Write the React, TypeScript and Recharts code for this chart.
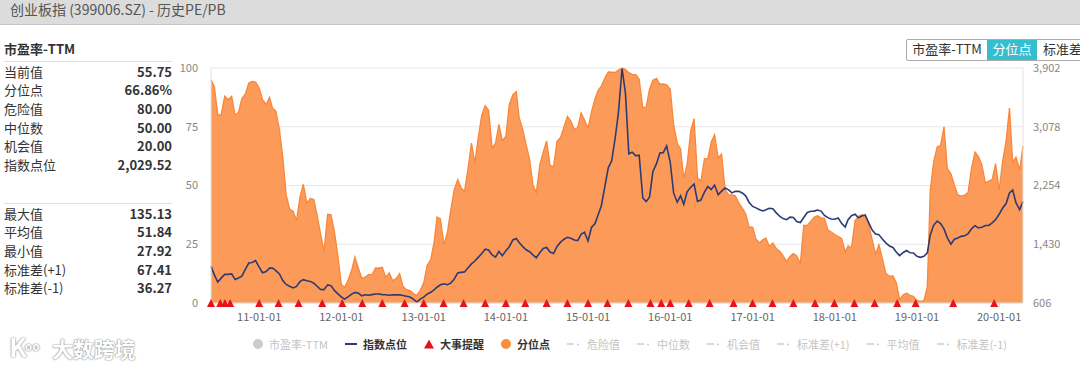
import React from 'react';
import {
  ComposedChart,
  Area,
  Line,
  Scatter,
  XAxis,
  YAxis,
  CartesianGrid,
} from 'recharts';

const FONT = "'Noto Sans CJK SC', 'Noto Sans', sans-serif";

// half-month samples starting 2010-06-01 (1st and 16th of each month)
const START_YEAR = 2010;
const START_MONTH = 5;

// 分位点 (%)
const PERCENTILE = [
  95, 92, 80, 80, 88, 86.5, 88, 80, 81, 87, 89, 93.6, 94.3, 94, 91.5, 86.5, 84.5, 87.5, 83, 81.7, 73.8, 62, 46, 40,
  39, 35, 45, 50.5, 42.5, 44.5, 44, 37, 29.3, 22, 37.8, 37.5, 30.5, 20.5, 7.8, 6.8, 10, 14, 19.5, 15, 10.5, 11, 12.2, 12,
  14.9, 14.8, 15.2, 11, 12.8, 9.5, 10.5, 12.5, 7, 5.7, 5.3, 4, 3.2, 5.3, 8.6, 16, 18.5, 25.8, 36.6, 35.8, 24.8, 30, 39.5, 48,
  52.5, 49, 47.5, 56.7, 68, 59.5, 71, 80, 84, 82, 65.8, 68, 76, 69, 71, 84.4, 88.7, 90, 78.8, 74.2, 67.3, 61.2, 50.3, 47,
  59, 64.3, 69, 58.5, 58, 68.8, 70.5, 74.9, 79.4, 77.5, 73.8, 74.7, 80.9, 77.9, 74.5, 81.3, 87, 90.7, 92.3, 95.6, 98.3, 98.2, 98.1, 99.1,
  99.9, 99.4, 98, 97.3, 97.2, 95.2, 83, 83.5, 91, 94.8, 95.6, 93.1, 93.2, 92.8, 91, 76, 68, 65.5, 53, 59, 73.2, 78.4, 53.3, 51.8,
  61.3, 61.5, 68.5, 71.6, 61.7, 63.4, 48.2, 46, 46, 45.6, 42.5, 40.4, 38, 32.4, 32.3, 27.1, 25.6, 27, 27.6, 24.2, 25.5, 23.2, 22, 20.2,
  17.7, 19.8, 21, 20, 16.8, 33, 33, 34.7, 36.5, 37.1, 36.2, 36, 31.2, 30.2, 29.1, 28.3, 27.4, 21.7, 24.3, 23.5, 35, 36.9, 37.6, 37,
  33, 27, 20.8, 24.8, 18.7, 12.5, 11.4, 11.5, 8.6, 1.4, 3.5, 4.2, 3.3, 2.8, 1.1, 0.7, 1, 7, 48, 60, 66.5, 67, 75, 57.2,
  55, 50.3, 46, 45.5, 45.9, 47, 57.8, 64.2, 62.3, 59, 51, 51.9, 52.5, 59.3, 48, 60, 69, 83, 60, 62, 56.5, 66.86,
];

// 指数点位
const INDEX_POINTS = [
  1120, 1000, 900, 955, 1008, 1008, 1015, 935, 957, 982, 1080, 1167, 1175, 1200, 1110, 1030, 1048, 1095, 1097, 1060, 1013, 920, 866, 842,
  818, 838, 905, 933, 919, 909, 884, 838, 795, 793, 860, 850, 783, 737, 690, 660, 696, 730, 754, 745, 707, 722, 714, 723,
  732, 732, 723, 722, 715, 722, 720, 720, 711, 701, 689, 660, 620, 660, 688, 730, 756, 790, 827, 862, 875, 863, 885, 940,
  1028, 1036, 1042, 1097, 1155, 1195, 1250, 1300, 1360, 1350, 1280, 1250, 1330, 1270, 1340, 1395, 1490, 1510, 1455, 1400, 1352, 1325, 1280, 1240,
  1315, 1370, 1385, 1320, 1300, 1400, 1460, 1500, 1527, 1515, 1490, 1480, 1570, 1600, 1475, 1665, 1720, 1855, 1970, 2230, 2505, 2600, 2910, 3280,
  3895, 3550, 2700, 2720, 2670, 2680, 2080, 2030, 2090, 2450, 2560, 2710, 2715, 2810, 2580, 2150, 2020, 2110, 1990, 2165, 2230, 2275, 2032, 2050,
  2160, 2240, 2198, 2260, 2125, 2175, 2218, 2193, 2150, 2172, 2172, 2150, 2110, 2020, 1960, 1940, 1913, 1897, 1913, 1935, 1927, 1870, 1823, 1790,
  1775, 1810, 1805, 1750, 1735, 1805, 1875, 1892, 1895, 1910, 1895, 1835, 1803, 1785, 1780, 1798, 1720, 1670, 1775, 1830, 1852, 1800, 1825, 1840,
  1730, 1630, 1575, 1565, 1500, 1450, 1405, 1385, 1320, 1270, 1315, 1342, 1310, 1307, 1262, 1246, 1260, 1310, 1560, 1695, 1755, 1720, 1645, 1520,
  1430, 1500, 1518, 1541, 1548, 1580, 1650, 1690, 1658, 1668, 1692, 1693, 1730, 1775, 1850, 1935, 2000, 2150, 2190, 2010, 1915, 2029.52,
];

// 大事提醒
const EVENT_DATES = [
  '2010-06-01', '2010-07-12', '2010-08-02', '2010-08-25', '2011-01-01', '2011-03-28', '2011-06-25', '2011-10-08',
  '2012-01-05', '2012-04-03', '2012-07-01', '2012-10-08', '2013-01-01', '2013-03-30', '2013-06-27', '2013-10-01',
  '2014-01-01', '2014-03-28', '2014-07-01', '2014-10-01', '2015-01-01', '2015-03-28', '2015-06-29', '2015-10-05',
  '2015-11-22', '2016-01-01', '2016-03-23', '2016-06-24', '2016-10-08', '2017-01-01', '2017-03-30', '2017-07-01',
  '2017-10-05', '2017-12-30', '2018-03-29', '2018-06-27', '2018-10-05', '2018-12-26', '2019-06-11', '2019-12-10',
];

const YEAR_TICKS = [2011, 2012, 2013, 2014, 2015, 2016, 2017, 2018, 2019, 2020];
const PCT_TICKS = [0, 25, 50, 75, 100];
const IDX_TICKS = [606, 1430, 2254, 3078, 3902];

const STATS_TOP = [
  ['当前值', '55.75'],
  ['分位点', '66.86%'],
  ['危险值', '80.00'],
  ['中位数', '50.00'],
  ['机会值', '20.00'],
  ['指数点位', '2,029.52'],
];
const STATS_BOTTOM = [
  ['最大值', '135.13'],
  ['平均值', '51.84'],
  ['最小值', '27.92'],
  ['标准差(+1)', '67.41'],
  ['标准差(-1)', '36.27'],
];

const LEGEND = [
  { label: '市盈率-TTM', icon: 'dot', color: '#cccccc', on: false },
  { label: '指数点位', icon: 'line', color: '#2e3a73', on: true },
  { label: '大事提醒', icon: 'tri', color: '#e8121a', on: true },
  { label: '分位点', icon: 'dot', color: '#fb8c3c', on: true },
  { label: '危险值', icon: 'dash', color: '#cccccc', on: false },
  { label: '中位数', icon: 'dash', color: '#cccccc', on: false },
  { label: '机会值', icon: 'dash', color: '#cccccc', on: false },
  { label: '标准差(+1)', icon: 'dash', color: '#cccccc', on: false },
  { label: '平均值', icon: 'dash', color: '#cccccc', on: false },
  { label: '标准差(-1)', icon: 'dash', color: '#cccccc', on: false },
];

const rows = PERCENTILE.map((pct, i) => {
  const m = START_MONTH + Math.floor(i / 2);
  const t = Date.UTC(START_YEAR + Math.floor(m / 12), m % 12, i % 2 ? 16 : 1);
  return { t, pct, idx: INDEX_POINTS[i] };
});
const eventRows = EVENT_DATES.map((d) => ({ t: Date.parse(d), ev: 0 }));
const yearTicks = YEAR_TICKS.map((y) => Date.UTC(y, 0, 1));

const fmtDate = (t: number) => {
  const d = new Date(t);
  const p = (n: number) => String(n).padStart(2, '0');
  return `${p(d.getUTCFullYear() % 100)}-${p(d.getUTCMonth() + 1)}-${p(d.getUTCDate())}`;
};

const EventMark = (props: any) => {
  const { cx, cy } = props;
  if (cx == null || cy == null) return null;
  return (
    <polygon
      points={`${cx - 4},${cy + 4} ${cx + 4},${cy + 4} ${cx},${cy - 4}`}
      fill="#e8121a"
    />
  );
};

const LegendIcon = ({ icon, color }: { icon: string; color: string }) => {
  if (icon === 'dot')
    return (
      <svg width={10} height={10}>
        <circle cx={5} cy={5} r={5} fill={color} />
      </svg>
    );
  if (icon === 'line')
    return (
      <svg width={12} height={10}>
        <line x1={0} y1={5} x2={12} y2={5} stroke={color} strokeWidth={2} />
      </svg>
    );
  if (icon === 'tri')
    return (
      <svg width={10} height={10}>
        <polygon points="0,9.5 10,9.5 5,0.5" fill={color} />
      </svg>
    );
  return (
    <svg width={14} height={10}>
      <line x1={0} y1={5} x2={7} y2={5} stroke={color} strokeWidth={1.5} />
      <circle cx={11} cy={5.5} r={1} fill={color} />
    </svg>
  );
};

const StatRows = ({ items }: { items: string[][] }) => (
  <>
    {items.map(([k, v]) => (
      <div
        key={k}
        style={{ display: 'flex', justifyContent: 'space-between', height: 18.7, lineHeight: '18.7px' }}
      >
        <span style={{ color: '#333' }}>{k}</span>
        <span style={{ color: '#333', fontWeight: 700 }}>{v}</span>
      </div>
    ))}
  </>
);

export default function App() {
  return (
    <div
      style={{
        position: 'absolute',
        left: 0,
        top: 0,
        width: 1080,
        height: 370,
        overflow: 'hidden',
        background: '#fff',
        fontFamily: FONT,
      }}
    >
      {/* title bar */}
      <div
        style={{
          position: 'absolute',
          left: 0,
          top: 0,
          width: 1080,
          height: 24,
          background: '#dcdcdc',
          borderBottom: '1px solid #c4c4c4',
        }}
      >
        <div style={{ position: 'absolute', left: 10, top: 0, fontSize: 14, lineHeight: '19px', color: '#555' }}>
          创业板指 (399006.SZ) - 历史PE/PB
        </div>
      </div>

      <div style={{ position: 'absolute', left: 0, top: 0 }}>
        <ComposedChart
          width={1080}
          height={370}
          data={rows}
          margin={{ top: 68, right: 7, left: 181, bottom: 37 }}
        >
          <CartesianGrid yAxisId="pct" vertical={false} stroke="#e6e6ec" />
          <XAxis
            dataKey="t"
            type="number"
            domain={['dataMin', 'dataMax']}
            ticks={yearTicks}
            tickFormatter={fmtDate}
            height={30}
            axisLine={{ stroke: '#dddddd' }}
            tickLine={{ stroke: '#cccccc' }}
            tickSize={4}
            tickMargin={6}
            tick={{ fontSize: 11, fill: '#666', fontFamily: FONT }}
          />
          <YAxis
            yAxisId="pct"
            domain={[0, 100]}
            ticks={PCT_TICKS}
            width={30}
            axisLine={{ stroke: '#e2e2e2' }}
            tickLine={false}
            tickSize={0}
            tickMargin={13}
            tick={{ fontSize: 11, fill: '#888', fontFamily: FONT }}
          />
          <YAxis
            yAxisId="idx"
            orientation="right"
            domain={[606, 3902]}
            ticks={IDX_TICKS}
            allowDataOverflow
            width={50}
            axisLine={{ stroke: '#e2e2e2' }}
            tickLine={false}
            tickSize={0}
            tickMargin={10}
            tickFormatter={(v: number) => v.toLocaleString('en-US')}
            tick={{ fontSize: 11, fill: '#888', fontFamily: FONT }}
          />
          <Area
            yAxisId="pct"
            type="linear"
            dataKey="pct"
            stroke="#f8873a"
            strokeWidth={1.3}
            fill="#fc9b59"
            fillOpacity={1}
            dot={false}
            activeDot={false}
            isAnimationActive={false}
          />
          <Line
            yAxisId="idx"
            type="linear"
            dataKey="idx"
            stroke="#2e3a73"
            strokeWidth={1.6}
            dot={false}
            activeDot={false}
            isAnimationActive={false}
          />
          <Scatter
            yAxisId="pct"
            data={eventRows}
            dataKey="ev"
            shape={EventMark}
            isAnimationActive={false}
          />
        </ComposedChart>
      </div>

      {/* left stats panel */}
      <div style={{ position: 'absolute', left: 4, top: 40, width: 168, fontSize: 13 }}>
        <div style={{ height: 18, lineHeight: '18px', fontWeight: 700, color: '#333' }}>市盈率-TTM</div>
        <div style={{ marginTop: 3, borderTop: '1px solid #dddddd', paddingTop: 0.5 }}>
          <StatRows items={STATS_TOP} />
        </div>
      </div>
      <div style={{ position: 'absolute', left: 4, top: 203, width: 168, fontSize: 13 }}>
        <div style={{ borderTop: '1px solid #dddddd', paddingTop: 0.5 }}>
          <StatRows items={STATS_BOTTOM} />
        </div>
      </div>

      {/* top-right switch (cut off at the right edge, as in the source) */}
      <div
        style={{
          position: 'absolute',
          left: 906,
          top: 39,
          height: 20,
          display: 'flex',
          fontSize: 13,
          lineHeight: '18px',
          border: '1px solid #aaaaaa',
          borderRadius: 2,
          whiteSpace: 'nowrap',
        }}
      >
        <div style={{ width: 80, textAlign: 'center', color: '#333' }}>市盈率-TTM</div>
        <div style={{ width: 50, textAlign: 'center', color: '#fff', background: '#37bdd0' }}>分位点</div>
        <div style={{ width: 48, paddingLeft: 6, color: '#333' }}>标准差</div>
      </div>

      {/* watermark */}
      <div
        style={{
          position: 'absolute',
          left: 9,
          top: 331,
          fontSize: 21,
          lineHeight: '30px',
          fontWeight: 700,
          color: '#fff',
          textShadow: '0 0 1px #777, 0 0 2px #999',
          whiteSpace: 'nowrap',
        }}
      >
        <span style={{ fontSize: 26 }}>K</span>
        <span style={{ fontSize: 12, verticalAlign: 'top', marginLeft: -2 }}>oo</span>
        <span style={{ marginLeft: 12 }}>大数跨境</span>
      </div>

      {/* legend */}
      <div
        style={{
          position: 'absolute',
          left: 253,
          top: 336,
          display: 'flex',
          alignItems: 'center',
          gap: 17,
          fontSize: 11,
          lineHeight: '16px',
          whiteSpace: 'nowrap',
        }}
      >
        {LEGEND.map((it) => (
          <div key={it.label} style={{ display: 'flex', alignItems: 'center', gap: 6 }}>
            <LegendIcon icon={it.icon} color={it.color} />
            <span style={{ color: it.on ? '#333' : '#c4c4c4', fontWeight: it.on ? 700 : 400 }}>{it.label}</span>
          </div>
        ))}
      </div>
    </div>
  );
}
